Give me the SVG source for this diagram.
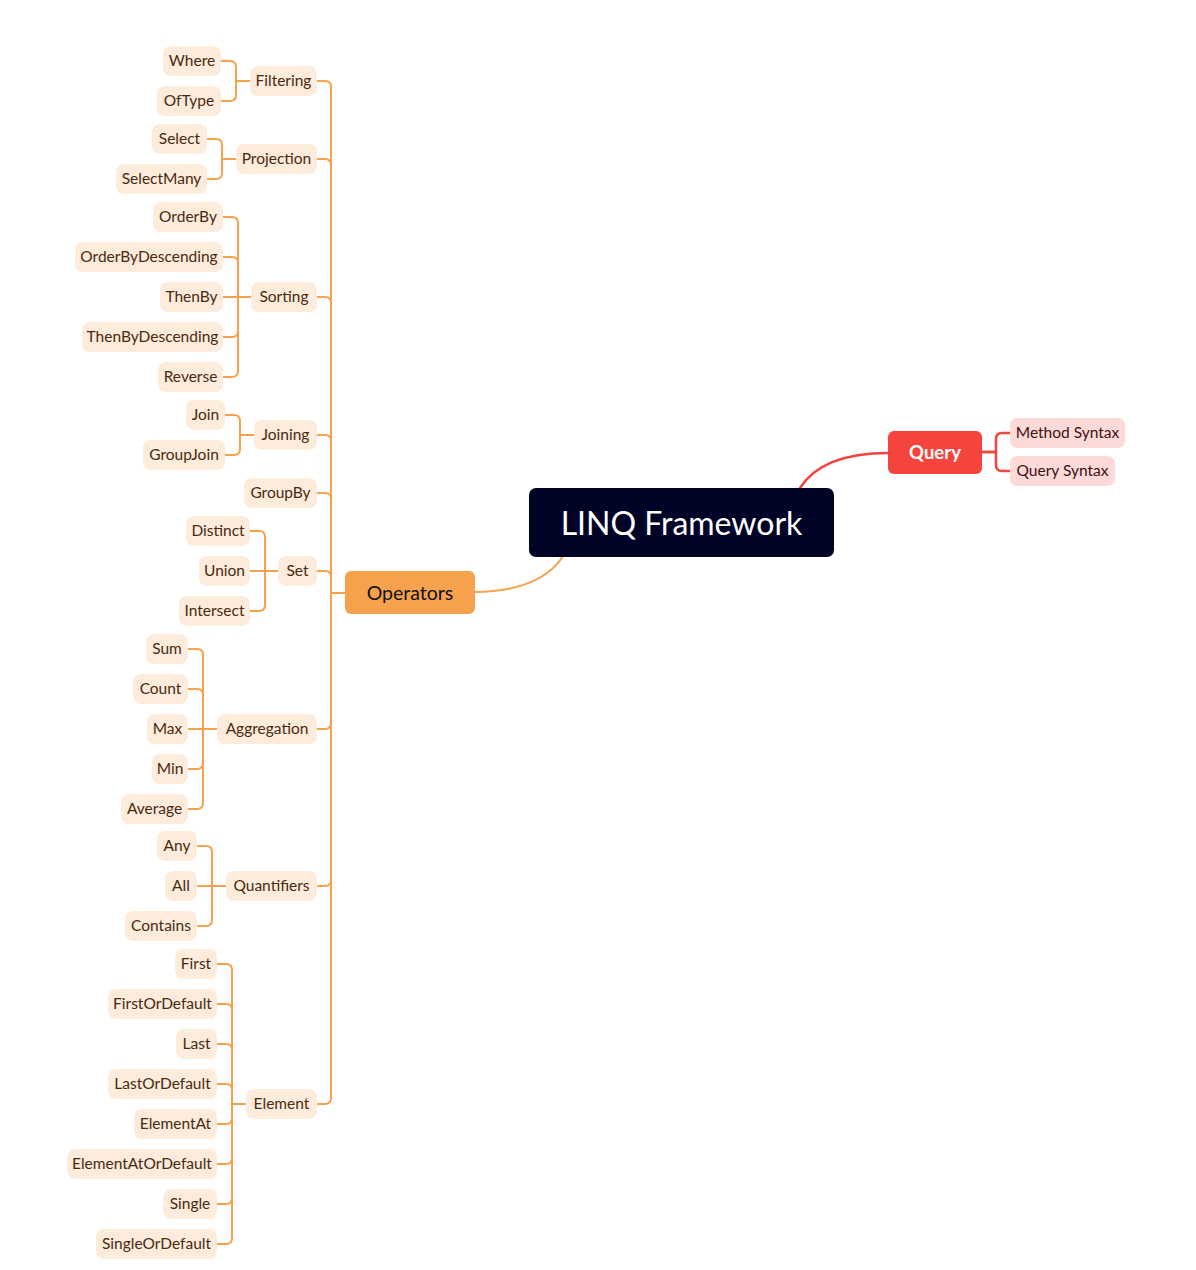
<svg xmlns="http://www.w3.org/2000/svg" width="1196" height="1270" viewBox="0 0 1196 1270">
<style>
text{font-family:Lato,"Liberation Sans",sans-serif;text-anchor:middle;dominant-baseline:central}
.lf rect{fill:#FDEBDC}
.lf text{font-size:15.5px;fill:#4A2A0E}
.qc rect{fill:#FDD9D7}
.qc text{font-size:15.5px;fill:#3D1214}
.o{fill:none;stroke:#F6A14C;stroke-width:2;stroke-linecap:round}
.r{fill:none;stroke:#F5443E;stroke-width:2.5;stroke-linecap:round}
</style>
<rect width="1196" height="1270" fill="#fff"/>
<g id="connectors">
<path class="o" d="M563,556 C545,585 505,592 475,592"/>
<path class="r" d="M800,488 C818,460 855,453 888,453"/>
<path class="r" d="M982,452 H996 V439 Q996,433 1002,433 H1010"/>
<path class="r" d="M982,452 H996 V465 Q996,471 1002,471 H1010"/>
<g class="o-lines">
<path class="o" d="M345,593 H331 V87 Q331,81 325,81 H317"/>
<path class="o" d="M345,593 H331 V165 Q331,159 325,159 H317"/>
<path class="o" d="M345,593 H331 V303 Q331,297 325,297 H317"/>
<path class="o" d="M345,593 H331 V441 Q331,435 325,435 H317"/>
<path class="o" d="M345,593 H331 V499 Q331,493 325,493 H317"/>
<path class="o" d="M345,593 H331 V577 Q331,571 325,571 H317"/>
<path class="o" d="M345,593 H331 V723 Q331,729 325,729 H317"/>
<path class="o" d="M345,593 H331 V880 Q331,886 325,886 H317"/>
<path class="o" d="M345,593 H331 V1098 Q331,1104 325,1104 H317"/>

<path class="o" d="M250,81 H236 V67 Q236,61 230,61 H221"/>
<path class="o" d="M250,81 H236 V95 Q236,101 230,101 H221"/>

<path class="o" d="M236,159 H222 V145 Q222,139 216,139 H207"/>
<path class="o" d="M236,159 H222 V173 Q222,179 216,179 H207"/>

<path class="o" d="M251,297 H238 V223 Q238,217 232,217 H223"/>
<path class="o" d="M251,297 H238 V263 Q238,257 232,257 H223"/>
<path class="o" d="M251,297 H223"/>
<path class="o" d="M251,297 H238 V331 Q238,337 232,337 H223"/>
<path class="o" d="M251,297 H238 V371 Q238,377 232,377 H223"/>

<path class="o" d="M254,435 H240 V421 Q240,415 234,415 H225"/>
<path class="o" d="M254,435 H240 V449 Q240,455 234,455 H225"/>

<path class="o" d="M278,571 H265 V537 Q265,531 259,531 H250"/>
<path class="o" d="M278,571 H250"/>
<path class="o" d="M278,571 H265 V605 Q265,611 259,611 H250"/>

<path class="o" d="M217,729 H203 V655 Q203,649 197,649 H188"/>
<path class="o" d="M217,729 H203 V695 Q203,689 197,689 H188"/>
<path class="o" d="M217,729 H188"/>
<path class="o" d="M217,729 H203 V763 Q203,769 197,769 H188"/>
<path class="o" d="M217,729 H203 V803 Q203,809 197,809 H188"/>

<path class="o" d="M226,886 H212 V852 Q212,846 206,846 H197"/>
<path class="o" d="M226,886 H197"/>
<path class="o" d="M226,886 H212 V920 Q212,926 206,926 H197"/>

<path class="o" d="M246,1104 H232 V970 Q232,964 226,964 H217"/>
<path class="o" d="M246,1104 H232 V1010 Q232,1004 226,1004 H217"/>
<path class="o" d="M246,1104 H232 V1050 Q232,1044 226,1044 H217"/>
<path class="o" d="M246,1104 H232 V1090 Q232,1084 226,1084 H217"/>
<path class="o" d="M246,1104 H232 V1118 Q232,1124 226,1124 H217"/>
<path class="o" d="M246,1104 H232 V1158 Q232,1164 226,1164 H217"/>
<path class="o" d="M246,1104 H232 V1198 Q232,1204 226,1204 H217"/>
<path class="o" d="M246,1104 H232 V1238 Q232,1244 226,1244 H217"/>
</g>
</g>

<g id="root"><rect x="529" y="488" width="305" height="69" rx="7" fill="#000326"/><text x="681.5" y="522" font-size="32" fill="#fff">LINQ Framework</text></g>
<g id="query"><rect x="888" y="431" width="94" height="43" rx="6" fill="#F5443E"/><text x="935" y="451.5" font-size="18.5" font-weight="bold" fill="#fff">Query</text></g>
<g id="method-syntax" class="qc"><rect x="1010" y="418" width="115" height="30" rx="7"/><text x="1067.5" y="432">Method Syntax</text></g>
<g id="query-syntax" class="qc"><rect x="1010" y="456" width="105" height="30" rx="7"/><text x="1062.5" y="470">Query Syntax</text></g>
<g id="operators"><rect x="345" y="571" width="130" height="43" rx="6" fill="#F6A14C"/><text x="410" y="592" font-size="19.5" fill="#111">Operators</text></g>

<g id="filtering" class="lf"><rect x="250" y="66" width="67" height="30" rx="8"/><text x="283.5" y="80">Filtering</text></g>
<g id="projection" class="lf"><rect x="236" y="144" width="81" height="30" rx="8"/><text x="276.5" y="158">Projection</text></g>
<g id="sorting" class="lf"><rect x="251" y="282" width="66" height="30" rx="8"/><text x="284" y="296">Sorting</text></g>
<g id="joining" class="lf"><rect x="254" y="420" width="63" height="30" rx="8"/><text x="285.5" y="434">Joining</text></g>
<g id="groupby" class="lf"><rect x="244" y="478" width="73" height="30" rx="8"/><text x="280.5" y="492">GroupBy</text></g>
<g id="set" class="lf"><rect x="278" y="556" width="39" height="30" rx="8"/><text x="297.5" y="570">Set</text></g>
<g id="aggregation" class="lf"><rect x="217" y="714" width="100" height="30" rx="8"/><text x="267" y="728">Aggregation</text></g>
<g id="quantifiers" class="lf"><rect x="226" y="871" width="91" height="30" rx="8"/><text x="271.5" y="885">Quantifiers</text></g>
<g id="element" class="lf"><rect x="246" y="1089" width="71" height="30" rx="8"/><text x="281.5" y="1103">Element</text></g>

<g id="where" class="lf"><rect x="163" y="46" width="58" height="30" rx="8"/><text x="192" y="60">Where</text></g>
<g id="oftype" class="lf"><rect x="157" y="86" width="64" height="30" rx="8"/><text x="189" y="100">OfType</text></g>
<g id="select" class="lf"><rect x="152" y="124" width="55" height="30" rx="8"/><text x="179.5" y="138">Select</text></g>
<g id="selectmany" class="lf"><rect x="116" y="164" width="91" height="30" rx="8"/><text x="161.5" y="178">SelectMany</text></g>
<g id="orderby" class="lf"><rect x="153" y="202" width="70" height="30" rx="8"/><text x="188" y="216">OrderBy</text></g>
<g id="orderbydescending" class="lf"><rect x="75" y="242" width="148" height="30" rx="8"/><text x="149" y="256">OrderByDescending</text></g>
<g id="thenby" class="lf"><rect x="160" y="282" width="63" height="30" rx="8"/><text x="191.5" y="296">ThenBy</text></g>
<g id="thenbydescending" class="lf"><rect x="82" y="322" width="141" height="30" rx="8"/><text x="152.5" y="336">ThenByDescending</text></g>
<g id="reverse" class="lf"><rect x="158" y="362" width="65" height="30" rx="8"/><text x="190.5" y="376">Reverse</text></g>
<g id="join" class="lf"><rect x="186" y="400" width="39" height="30" rx="8"/><text x="205.5" y="414">Join</text></g>
<g id="groupjoin" class="lf"><rect x="143" y="440" width="82" height="30" rx="8"/><text x="184" y="454">GroupJoin</text></g>
<g id="distinct" class="lf"><rect x="186" y="516" width="64" height="30" rx="8"/><text x="218" y="530">Distinct</text></g>
<g id="union" class="lf"><rect x="199" y="556" width="51" height="30" rx="8"/><text x="224.5" y="570">Union</text></g>
<g id="intersect" class="lf"><rect x="179" y="596" width="71" height="30" rx="8"/><text x="214.5" y="610">Intersect</text></g>
<g id="sum" class="lf"><rect x="146" y="634" width="42" height="30" rx="8"/><text x="167" y="648">Sum</text></g>
<g id="count" class="lf"><rect x="133" y="674" width="55" height="30" rx="8"/><text x="160.5" y="688">Count</text></g>
<g id="max" class="lf"><rect x="147" y="714" width="41" height="30" rx="8"/><text x="167.5" y="728">Max</text></g>
<g id="min" class="lf"><rect x="152" y="754" width="36" height="30" rx="8"/><text x="170" y="768">Min</text></g>
<g id="average" class="lf"><rect x="121" y="794" width="67" height="30" rx="8"/><text x="154.5" y="808">Average</text></g>
<g id="any" class="lf"><rect x="157" y="831" width="40" height="30" rx="8"/><text x="177" y="845">Any</text></g>
<g id="all" class="lf"><rect x="165" y="871" width="32" height="30" rx="8"/><text x="181" y="885">All</text></g>
<g id="contains" class="lf"><rect x="125" y="911" width="72" height="30" rx="8"/><text x="161" y="925">Contains</text></g>
<g id="first" class="lf"><rect x="175" y="949" width="42" height="30" rx="8"/><text x="196" y="963">First</text></g>
<g id="firstordefault" class="lf"><rect x="108" y="989" width="109" height="30" rx="8"/><text x="162.5" y="1003">FirstOrDefault</text></g>
<g id="last" class="lf"><rect x="176" y="1029" width="41" height="30" rx="8"/><text x="196.5" y="1043">Last</text></g>
<g id="lastordefault" class="lf"><rect x="108" y="1069" width="109" height="30" rx="8"/><text x="162.5" y="1083">LastOrDefault</text></g>
<g id="elementat" class="lf"><rect x="134" y="1109" width="83" height="30" rx="8"/><text x="175.5" y="1123">ElementAt</text></g>
<g id="elementatordefault" class="lf"><rect x="67" y="1149" width="150" height="30" rx="8"/><text x="142" y="1163">ElementAtOrDefault</text></g>
<g id="single" class="lf"><rect x="163" y="1189" width="54" height="30" rx="8"/><text x="190" y="1203">Single</text></g>
<g id="singleordefault" class="lf"><rect x="96" y="1229" width="121" height="30" rx="8"/><text x="156.5" y="1243">SingleOrDefault</text></g>
</svg>
